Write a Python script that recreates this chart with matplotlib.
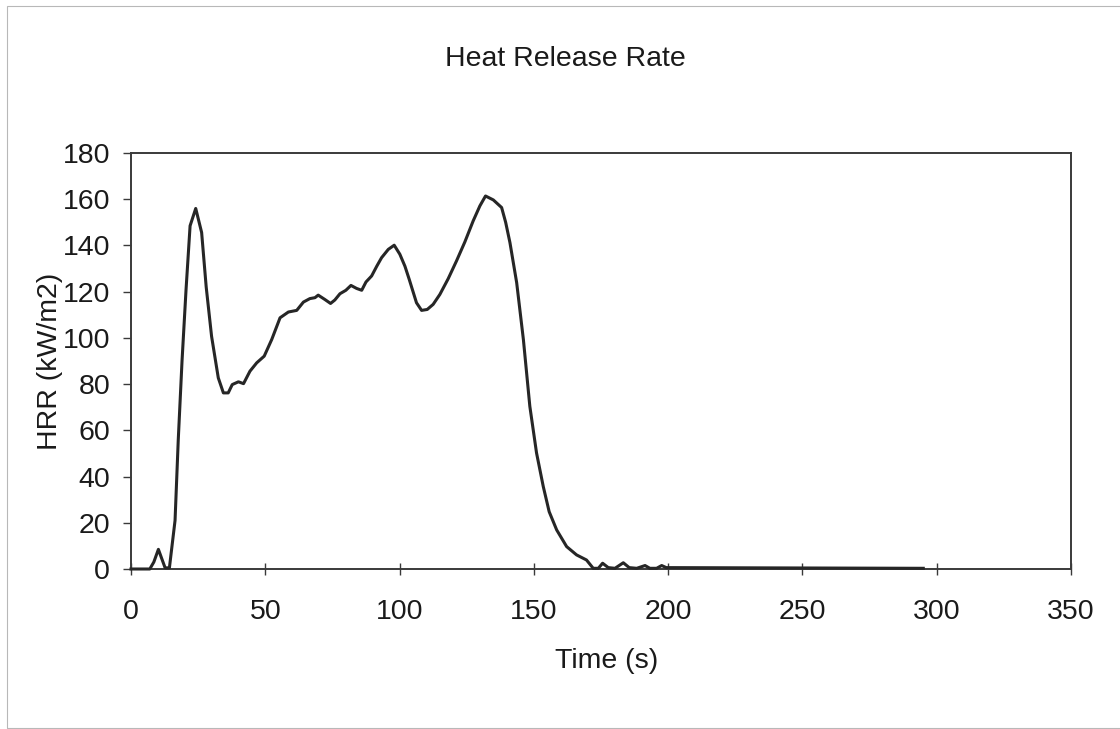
import matplotlib
matplotlib.use("Agg")
import matplotlib.pyplot as plt
from matplotlib.patches import Rectangle

plt.rcParams['font.family'] = ['Liberation Sans', 'DejaVu Sans']

time_s = [0, 7, 8.5, 10.2, 12.7, 14.3, 16.4, 17.6, 19, 20.5,
          22, 24.1, 26.3, 28, 30, 32.5, 34.4, 36.2, 37.7, 40,
          41.9, 44.3, 46.8, 49.6, 52.4, 55.5, 58.6, 61.7, 64.2, 66.6,
          68.5, 69.7, 72.2, 74.3, 75.9, 77.8, 80, 81.9, 84, 85.9,
          87.5, 89.6, 91.5, 93.3, 95.8, 98, 100.1, 102, 103.6, 106.3,
          108.2, 110.3, 112.5, 115, 118.1, 121.2, 124.3, 127.4, 129.9, 132,
          134.9, 138, 139.5, 141.1, 143.6, 146.1, 148.5, 151, 153.5, 155.7,
          158.5, 162.2, 165.9, 169.6, 172.1, 174, 175.6, 177.7, 180.2, 183.3,
          185.5, 188.3, 191.4, 193.2, 195.7, 197.6, 199.3, 295]
hrr = [0, 0, 3, 8.5, 0.5, 0.5, 21, 56, 90, 121,
       148.5, 156, 145.6, 122, 100.7, 82.7, 76.2, 76.2, 79.8, 81,
       80.2, 85.6, 89.2, 92.1, 99.3, 108.7, 111.2, 111.9, 115.5, 117,
       117.4, 118.5, 116.6, 114.9, 116.4, 119.1, 120.6, 122.7, 121.4, 120.6,
       124.2, 126.8, 131, 134.7, 138.3, 140.1, 136.2, 131, 125.3, 115.2,
       111.9, 112.3, 114.5, 118.8, 125.6, 133.3, 141.5, 150.6, 157.1, 161.4,
       159.7, 156.4, 150, 141.2, 123.9, 99.3, 70.4, 50.2, 35.7, 24.8,
       16.9, 9.7, 6.1, 3.9, 0.3, 0.3, 2.5, 0.6, 0.3, 2.7,
       0.6, 0.3, 1.5, 0.3, 0.3, 1.5, 0.6, 0.3]

x_ticks = [0, 50, 100, 150, 200, 250, 300, 350]
y_ticks = [0, 20, 40, 60, 80, 100, 120, 140, 160, 180]

W, H = 1120, 729
FS = 20.5
fig = plt.figure(figsize=(W / 100, H / 100), dpi=100)
fig.patch.set_facecolor('white')

# scanned page border
fig.patches.append(Rectangle((7 / W, 1 - 728 / H), (1135 - 7) / W, (728 - 6) / H,
                             transform=fig.transFigure, fill=False,
                             edgecolor='#b8b8b8', linewidth=0.8))

left, right = 131 / W, 1071 / W
bottom, top = 1 - 569 / H, 1 - 153 / H
ax = fig.add_axes([left, bottom, right - left, top - bottom])

ax.plot(time_s, hrr, color='#262626', linewidth=2.2, solid_joinstyle='round',
        clip_on=False, zorder=3)

ax.set_xlim(0, 350)
ax.set_ylim(0, 180)
ax.set_xticks(x_ticks)
ax.set_yticks(y_ticks)
ax.set_xticklabels([str(v) for v in x_ticks])
ax.set_yticklabels([str(v) for v in y_ticks])

for s in ax.spines.values():
    s.set_color('#3a3a3a')
    s.set_linewidth(1.4)

ax.tick_params(axis='y', direction='out', length=6, width=1.0, color='#3a3a3a',
               labelsize=FS, pad=9, labelcolor='#1a1a1a')
ax.tick_params(axis='x', direction='inout', length=9, width=1.0, color='#3a3a3a',
               labelsize=FS, pad=17, labelcolor='#1a1a1a')

ax.set_xlabel('Time (s)', fontsize=FS, color='#1a1a1a')
ax.xaxis.set_label_coords((607 - 131) / 940, -(668 - 569) / 416, transform=ax.transAxes)
ax.xaxis.label.set_va('baseline')
ax.set_ylabel('HRR (kW/m2)', fontsize=FS, color='#1a1a1a', labelpad=0)

fig.text(565 / W, 1 - 59 / H, 'Heat Release Rate', fontsize=FS,
         ha='center', va='center', color='#1a1a1a')

fig.savefig('out.png', dpi=100, facecolor='white')
